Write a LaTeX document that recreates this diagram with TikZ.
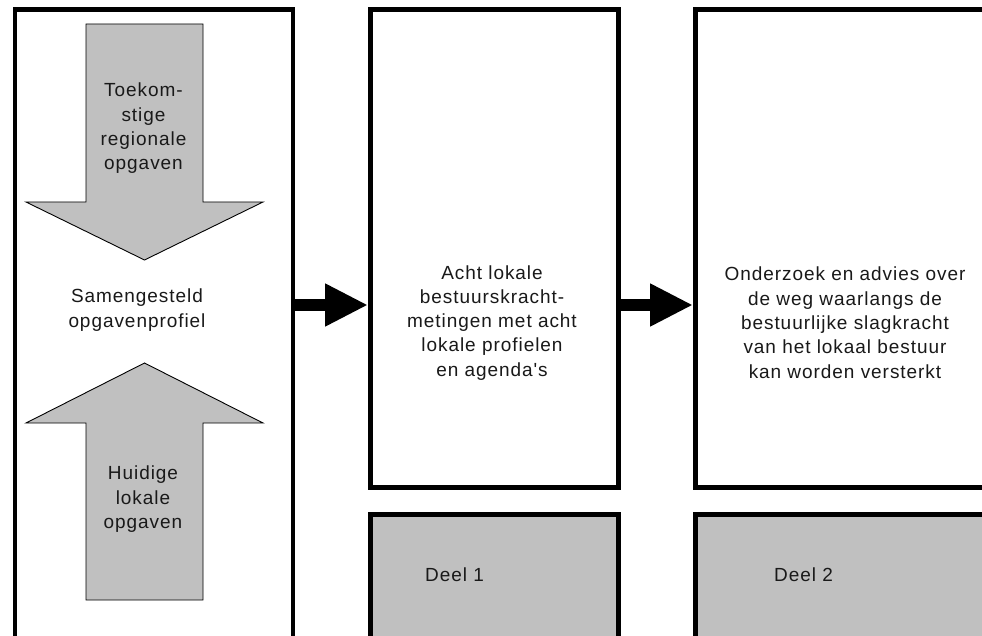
\documentclass[tikz,border=0pt]{standalone}
\usepackage{fontspec}
\newfontfamily\lblfont{Liberation Sans}[LetterSpace=5]
\usetikzlibrary{arrows.meta}
\definecolor{boxgray}{RGB}{192,192,192}
\definecolor{inkcol}{RGB}{25,25,25}
\begin{document}
\begin{tikzpicture}[x=1pt,y=-1pt,
  frame/.style={draw=black, line width=4.5pt, inner sep=0pt, anchor=north west, fill=white},
  grayframe/.style={frame, fill=boxgray},
  blockarrow/.style={fill=boxgray, draw=black, line width=0.9pt, line join=miter},
  conn/.style={draw=black, line width=12pt, -{Triangle[length=43pt,width=40pt]}},
  lbl/.style={inner sep=0pt, align=center, text=inkcol, font=\lblfont\fontsize{19}{24.3}\selectfont},
  ]
\useasboundingbox (0,0) rectangle (982,636);
\clip (0,0) rectangle (982,636);
% frames
\node[frame, minimum width=278pt, minimum height=652.5pt] (L) at (12.5,7.5) {};
\node[frame, minimum width=248pt, minimum height=477.5pt] (M) at (368,7.5) {};
\node[grayframe, minimum width=248pt, minimum height=150pt] (G1) at (368,512) {};
\node[frame, minimum width=320pt, minimum height=477.5pt] (R) at (693,7.5) {};
\node[grayframe, minimum width=320pt, minimum height=150pt] (G2) at (693,512) {};
% block arrows
\filldraw[blockarrow] (86,24) -- (203,24) -- (203,202) -- (263,202) -- (144.5,260) -- (26,202) -- (86,202) -- cycle;
\filldraw[blockarrow] (86,600) -- (203,600) -- (203,423) -- (263,423) -- (144.5,363) -- (26,423) -- (86,423) -- cycle;
% texts
\node[lbl] (t1) at (143.5,128.5) {Toekom-\\stige\\regionale\\opgaven};
\node[lbl] (t2) at (137,310) {Samengesteld\\opgavenprofiel};
\node[lbl] (t3) at (143,499.2) {Huidige\\lokale\\opgaven};
\node[lbl] (t4) at (492,322.7) {Acht lokale\\bestuurskracht-\\metingen met acht\\lokale profielen\\en agenda's};
\node[lbl] (t5) at (845,322.7) {Onderzoek en advies over\\de weg waarlangs de\\bestuurlijke slagkracht\\van het lokaal bestuur\\kan worden versterkt};
\node[lbl, anchor=base west] (d1) at (425,581) {Deel 1};
\node[lbl, anchor=base west] (d2) at (774,581.5) {Deel 2};
% connectors
\coordinate (ay) at (0,305);
\draw[conn] (L.east |- ay) -- (M.west |- ay);
\draw[conn] (M.east |- ay) -- (R.west |- ay);
\end{tikzpicture}
\end{document}
